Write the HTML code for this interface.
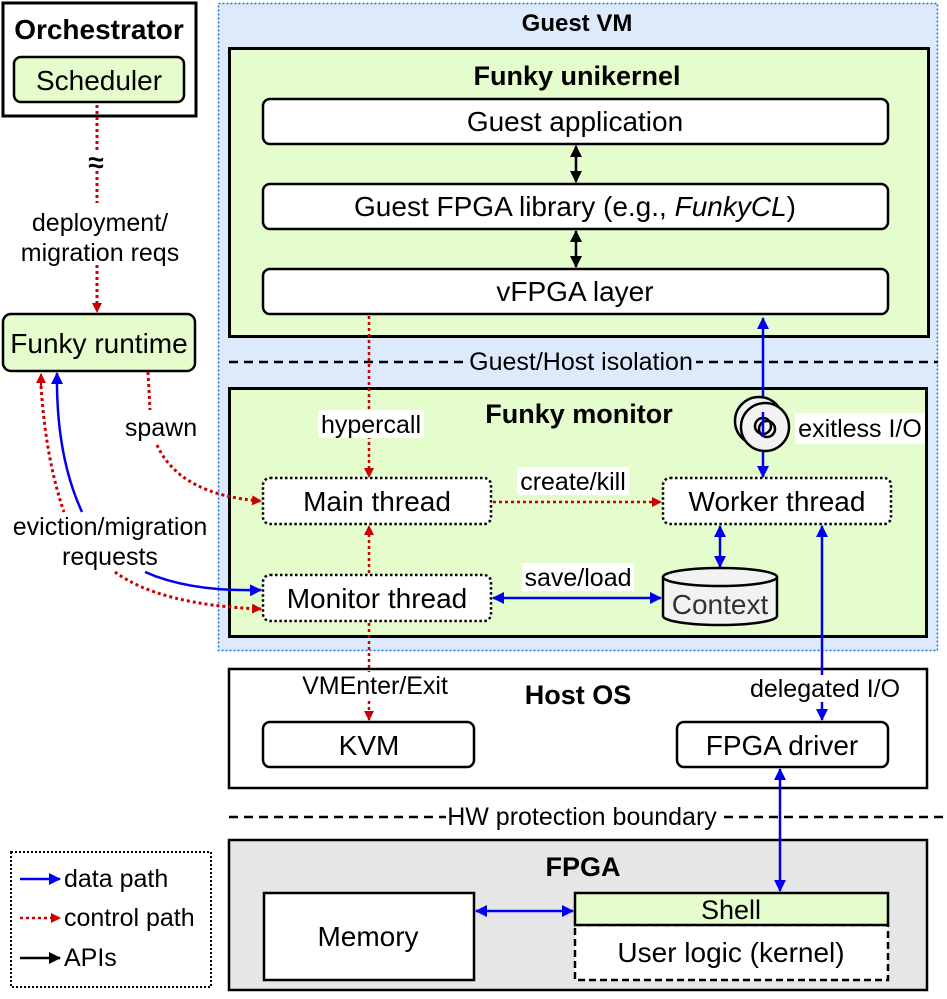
<!DOCTYPE html>
<html><head><meta charset="utf-8"><style>
html,body{margin:0;padding:0;background:#fff}
svg text{font-family:"Liberation Sans",Arial,sans-serif;fill:#000}
.b{font-weight:bold}
</style></head><body>
<svg width="947" height="994" viewBox="0 0 947 994" xmlns="http://www.w3.org/2000/svg">
<defs>
<marker id="ar" markerWidth="10" markerHeight="10" refX="9" refY="5" orient="auto" markerUnits="userSpaceOnUse"><path d="M0,0 L10,5 L0,10 z" fill="#cc0000"/></marker>
<marker id="ab" markerWidth="12" markerHeight="12" refX="11" refY="6" orient="auto" markerUnits="userSpaceOnUse"><path d="M0,0 L12,6 L0,12 z" fill="#0000ee"/></marker>
<marker id="abs" markerWidth="12" markerHeight="12" refX="1" refY="6" orient="auto" markerUnits="userSpaceOnUse"><path d="M12,0 L0,6 L12,12 z" fill="#0000ee"/></marker>
<marker id="ak" markerWidth="12" markerHeight="12" refX="11" refY="6" orient="auto" markerUnits="userSpaceOnUse"><path d="M0,0 L12,6 L0,12 z" fill="#000"/></marker>
<marker id="aks" markerWidth="12" markerHeight="12" refX="1" refY="6" orient="auto" markerUnits="userSpaceOnUse"><path d="M12,0 L0,6 L12,12 z" fill="#000"/></marker>
</defs>

<!-- Orchestrator -->
<rect x="3" y="3" width="193" height="113" fill="#fff" stroke="#000" stroke-width="3"/>
<text x="99" y="39" font-size="28" text-anchor="middle" class="b">Orchestrator</text>
<rect x="14" y="57" width="170" height="45" rx="7" fill="#e5fccc" stroke="#000" stroke-width="2.5"/>
<text x="99" y="90" font-size="28" text-anchor="middle">Scheduler</text>
<line x1="97" y1="105" x2="97" y2="203" stroke="#cc0000" stroke-width="3" stroke-dasharray="3,3"/>
<line x1="97" y1="265" x2="97" y2="312" stroke="#cc0000" stroke-width="3" stroke-dasharray="3,3" marker-end="url(#ar)"/>
<rect x="85" y="150" width="24" height="20" fill="#fff"/>
<text x="96" y="172" font-size="28" text-anchor="middle" class="b">≈</text>
<text x="100" y="231" font-size="25" text-anchor="middle">deployment/</text>
<text x="100" y="261" font-size="25" text-anchor="middle">migration reqs</text>

<rect x="3" y="314" width="192" height="57" rx="8" fill="#e5fccc" stroke="#000" stroke-width="2.5"/>
<text x="99" y="353" font-size="28" text-anchor="middle">Funky runtime</text>

<!-- Guest VM -->
<rect x="218.5" y="3.5" width="719" height="647" fill="#dceafc" stroke="#1a6fd8" stroke-width="1.5" stroke-dasharray="2,2"/>
<text x="577" y="31" font-size="24" text-anchor="middle" class="b">Guest VM</text>

<rect x="229.5" y="48.5" width="699" height="288" fill="#e5fccc" stroke="#000" stroke-width="3"/>
<text x="577" y="85" font-size="27" text-anchor="middle" class="b">Funky unikernel</text>
<rect x="263" y="99" width="625" height="45" rx="7" fill="#fff" stroke="#000" stroke-width="2.5"/>
<text x="575" y="131" font-size="28" text-anchor="middle">Guest application</text>
<rect x="263" y="184" width="625" height="45" rx="7" fill="#fff" stroke="#000" stroke-width="2.5"/>
<text x="575" y="216" font-size="28" text-anchor="middle">Guest FPGA library (e.g., <tspan font-style="italic">FunkyCL</tspan>)</text>
<rect x="263" y="269" width="625" height="45" rx="7" fill="#fff" stroke="#000" stroke-width="2.5"/>
<text x="575" y="301" font-size="28" text-anchor="middle">vFPGA layer</text>
<line x1="576" y1="146" x2="576" y2="182" stroke="#000" stroke-width="2.5" marker-start="url(#aks)" marker-end="url(#ak)"/>
<line x1="576" y1="231" x2="576" y2="267" stroke="#000" stroke-width="2.5" marker-start="url(#aks)" marker-end="url(#ak)"/>

<!-- isolation line -->
<line x1="229" y1="362" x2="938" y2="362" stroke="#000" stroke-width="2.5" stroke-dasharray="9,6"/>
<rect x="466" y="348" width="230" height="26" fill="#dceafc"/>
<text x="581" y="370" font-size="25" text-anchor="middle">Guest/Host isolation</text>

<!-- Funky monitor -->
<rect x="229.5" y="388.5" width="697" height="248" fill="#e5fccc" stroke="#000" stroke-width="3"/>
<text x="579" y="423" font-size="27" text-anchor="middle" class="b">Funky monitor</text>

<!-- hypercall -->
<line x1="369" y1="316" x2="369" y2="477" stroke="#cc0000" stroke-width="2.5" stroke-dasharray="3,3" marker-end="url(#ar)"/>
<rect x="318" y="410" width="106" height="28" fill="#fff"/>
<text x="371" y="433" font-size="25" text-anchor="middle">hypercall</text>

<!-- exitless I/O -->
<line x1="763" y1="318" x2="763" y2="477" stroke="#0000ee" stroke-width="2.5" marker-start="url(#abs)" marker-end="url(#ab)"/>
<circle cx="759" cy="421" r="24" fill="#f2f2f2" stroke="#000" stroke-width="2.5"/>
<circle cx="765" cy="427" r="24" fill="#f2f2f2" stroke="#000" stroke-width="2.5"/>
<circle cx="763" cy="426" r="8" fill="none" stroke="#000" stroke-width="2.5"/>
<circle cx="767" cy="429" r="8" fill="none" stroke="#000" stroke-width="2.5"/>
<line x1="763" y1="412" x2="763" y2="437" stroke="#0000ee" stroke-width="2.5"/>
<rect x="795" y="413" width="130" height="31" fill="#fff"/>
<text x="860" y="437" font-size="25" text-anchor="middle">exitless I/O</text>

<!-- threads -->
<rect x="263" y="478" width="228" height="46" rx="7" fill="#fff" stroke="#000" stroke-width="2.5" stroke-dasharray="2.5,2.5"/>
<text x="377" y="511" font-size="28" text-anchor="middle">Main thread</text>
<rect x="663" y="478" width="228" height="46" rx="7" fill="#fff" stroke="#000" stroke-width="2.5" stroke-dasharray="2.5,2.5"/>
<text x="777" y="511" font-size="28" text-anchor="middle">Worker thread</text>
<rect x="263" y="575" width="228" height="46" rx="7" fill="#fff" stroke="#000" stroke-width="2.5" stroke-dasharray="2.5,2.5"/>
<text x="377" y="608" font-size="28" text-anchor="middle">Monitor thread</text>

<line x1="493" y1="502" x2="661" y2="502" stroke="#cc0000" stroke-width="2.5" stroke-dasharray="3,3" marker-end="url(#ar)"/>
<rect x="517" y="467" width="112" height="28" fill="#fff"/>
<text x="573" y="490" font-size="25" text-anchor="middle">create/kill</text>

<line x1="493" y1="598" x2="661" y2="598" stroke="#0000ee" stroke-width="2.5" marker-start="url(#abs)" marker-end="url(#ab)"/>
<rect x="522" y="563" width="112" height="28" fill="#fff"/>
<text x="578" y="586" font-size="25" text-anchor="middle">save/load</text>

<line x1="369" y1="573" x2="369" y2="526" stroke="#cc0000" stroke-width="2.5" stroke-dasharray="3,3" marker-end="url(#ar)"/>
<line x1="720" y1="526" x2="720" y2="567" stroke="#0000ee" stroke-width="2.5" marker-start="url(#abs)" marker-end="url(#ab)"/>

<!-- Context cylinder -->
<path d="M663,577 L663,616 A57,9 0 0 0 777,616 L777,577" fill="#f2f2f2" stroke="#000" stroke-width="2.5"/>
<ellipse cx="720" cy="577" rx="57" ry="9" fill="#f2f2f2" stroke="#000" stroke-width="2.5"/>
<text x="720" y="614" font-size="28" text-anchor="middle" style="fill:#333">Context</text>

<!-- left curves -->
<path d="M41,386 Q46,460 64,512" fill="none" stroke="#cc0000" stroke-width="3" stroke-dasharray="3,3"/>
<path d="M41,386 L41,374" stroke="#cc0000" stroke-width="2" marker-end="url(#ar)"/>
<path d="M57,386 Q58,460 82,512" fill="none" stroke="#0000ee" stroke-width="2.5"/>
<path d="M57,386 L57,373" stroke="#0000ee" stroke-width="2.5" marker-end="url(#ab)"/>
<path d="M115,572 Q160,605 261,609" fill="none" stroke="#cc0000" stroke-width="3" stroke-dasharray="3,3" marker-end="url(#ar)"/>
<path d="M145,572 Q190,592 261,590" fill="none" stroke="#0000ee" stroke-width="2.5" marker-end="url(#ab)"/>
<path d="M148,372 L150,410" fill="none" stroke="#cc0000" stroke-width="3" stroke-dasharray="3,3"/>
<path d="M157,445 Q180,495 261,501" fill="none" stroke="#cc0000" stroke-width="3" stroke-dasharray="3,3" marker-end="url(#ar)"/>
<text x="161" y="436" font-size="25" text-anchor="middle">spawn</text>
<text x="110" y="535" font-size="25" text-anchor="middle">eviction/migration</text>
<text x="110" y="565" font-size="25" text-anchor="middle">requests</text>

<!-- Host OS -->
<rect x="229" y="669" width="698" height="119" fill="#fff" stroke="#000" stroke-width="2.5"/>
<text x="578" y="704" font-size="27" text-anchor="middle" class="b">Host OS</text>
<line x1="369" y1="623" x2="369" y2="720" stroke="#cc0000" stroke-width="2.5" stroke-dasharray="3,3" marker-end="url(#ar)"/>
<rect x="298" y="672" width="155" height="26" fill="#fff"/>
<text x="375" y="694" font-size="25" text-anchor="middle">VMEnter/Exit</text>
<!-- worker -> driver -->
<line x1="822" y1="526" x2="822" y2="720" stroke="#0000ee" stroke-width="2.5" marker-start="url(#abs)" marker-end="url(#ab)"/>
<rect x="748" y="675" width="155" height="27" fill="#fff"/>
<text x="825" y="697" font-size="25" text-anchor="middle">delegated I/O</text>
<rect x="263" y="722" width="211" height="45" rx="7" fill="#fff" stroke="#000" stroke-width="2.5"/>
<text x="369" y="755" font-size="28" text-anchor="middle">KVM</text>
<rect x="677" y="722" width="211" height="45" rx="7" fill="#fff" stroke="#000" stroke-width="2.5"/>
<text x="782" y="755" font-size="28" text-anchor="middle">FPGA driver</text>

<!-- HW boundary -->
<line x1="229" y1="817" x2="947" y2="817" stroke="#000" stroke-width="2.5" stroke-dasharray="9,6"/>
<rect x="446" y="803" width="272" height="26" fill="#fff"/>
<text x="582" y="825" font-size="25" text-anchor="middle">HW protection boundary</text>

<!-- FPGA -->
<rect x="229" y="840" width="698" height="150" fill="#e6e6e6" stroke="#000" stroke-width="2.5"/>
<text x="583" y="876" font-size="27" text-anchor="middle" class="b">FPGA</text>
<line x1="780" y1="769" x2="780" y2="891" stroke="#0000ee" stroke-width="2.5" marker-start="url(#abs)" marker-end="url(#ab)"/>
<rect x="264" y="893" width="210" height="87" fill="#fff" stroke="#000" stroke-width="2.5"/>
<text x="368" y="946" font-size="28" text-anchor="middle">Memory</text>
<rect x="575" y="925" width="313" height="55" fill="#fff" stroke="#000" stroke-width="2.5" stroke-dasharray="7,4"/>
<text x="731" y="962" font-size="28" text-anchor="middle">User logic (kernel)</text>
<rect x="575" y="893" width="313" height="32" fill="#e5fccc" stroke="#000" stroke-width="2.5"/>
<text x="731" y="919" font-size="27" text-anchor="middle">Shell</text>
<line x1="476" y1="911" x2="573" y2="911" stroke="#0000ee" stroke-width="2.5" marker-start="url(#abs)" marker-end="url(#ab)"/>

<!-- Legend -->
<rect x="11" y="852" width="200" height="135" fill="#fff" stroke="#000" stroke-width="2" stroke-dasharray="2,2"/>
<line x1="20" y1="879" x2="60" y2="879" stroke="#0000ee" stroke-width="2.5" marker-end="url(#ab)"/>
<text x="64" y="887" font-size="25">data path</text>
<line x1="20" y1="918" x2="60" y2="918" stroke="#cc0000" stroke-width="2.5" stroke-dasharray="3,3" marker-end="url(#ar)"/>
<text x="64" y="926" font-size="25">control path</text>
<line x1="20" y1="958" x2="60" y2="958" stroke="#000" stroke-width="2.5" marker-end="url(#ak)"/>
<text x="64" y="966" font-size="25">APIs</text>
</svg>
</body></html>
